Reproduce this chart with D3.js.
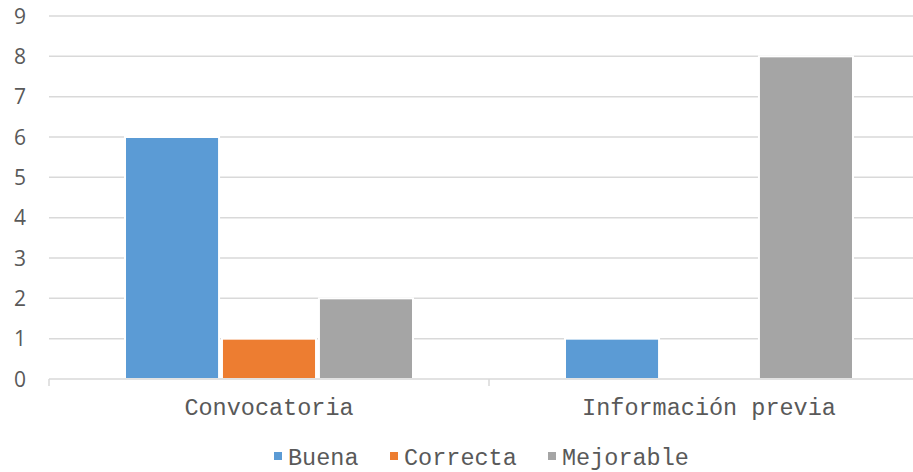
<!DOCTYPE html>
<html>
<head>
<meta charset="utf-8">
<script src="https://cdn.jsdelivr.net/npm/d3@7"></script>
<style>
  body { margin: 0; background: #fff; }
  svg { display: block; }
</style>
</head>
<body>
<div id="main"></div>
<script>
var categories = ["Convocatoria", "Información previa"];
var seriesNames = ["Buena", "Correcta", "Mejorable"];
var buena = [6, 1];
var correcta = [1, 0];
var mejorable = [2, 8];
var yTicks = [0, 1, 2, 3, 4, 5, 6, 7, 8, 9];
var colors = ["#5B9BD5", "#ED7D31", "#A5A5A5"];

var seriesValues = [buena, correcta, mejorable];

var width = 913, height = 472;
var margin = { top: 16, left: 49, right: 929, bottom: 379 };

var svg = d3.select("#main").append("svg")
  .attr("width", width)
  .attr("height", height);

var x = d3.scaleBand()
  .domain(categories)
  .range([margin.left, margin.right]);

var x1 = d3.scaleBand()
  .domain(seriesNames)
  .range([76, x.bandwidth() - 76])
  .paddingInner(0.03);

var y = d3.scaleLinear()
  .domain([0, 9])
  .range([margin.bottom, margin.top]);

// gridlines
svg.append("g")
  .selectAll("line")
  .data(yTicks.slice(1))
  .enter().append("line")
  .attr("x1", margin.left)
  .attr("x2", margin.right)
  .attr("y1", function(d) { return y(d); })
  .attr("y2", function(d) { return y(d); })
  .attr("stroke", "#d9d9d9")
  .attr("stroke-width", 1.5);

// y labels
svg.append("g")
  .selectAll("text")
  .data(yTicks)
  .enter().append("text")
  .attr("x", 26)
  .attr("y", function(d) { return y(d); })
  .attr("dy", "0.36em")
  .attr("text-anchor", "end")
  .style("font-family", "'Open Sans', sans-serif")
  .style("font-size", "21px")
  .style("fill", "#595959")
  .text(function(d) { return d; });

// bars
var groups = svg.selectAll(".grp")
  .data(categories)
  .enter().append("g")
  .attr("class", "grp")
  .attr("transform", function(d) { return "translate(" + x(d) + ",0)"; });

groups.selectAll("rect")
  .data(function(d, i) {
    return seriesNames.map(function(s, j) {
      return { name: s, value: seriesValues[j][i], idx: j };
    });
  })
  .enter().append("rect")
  .filter(function(d) { return d.value > 0; })
  .attr("x", function(d) { return x1(d.name); })
  .attr("width", x1.bandwidth())
  .attr("y", function(d) { return y(d.value); })
  .attr("height", function(d) { return y(0) - y(d.value); })
  .attr("fill", function(d) { return colors[d.idx]; })
  .attr("stroke", "#fff")
  .attr("stroke-width", 2);

// x axis
var xAxis = svg.append("g");
xAxis.append("line")
  .attr("x1", margin.left)
  .attr("x2", margin.right)
  .attr("y1", y(0))
  .attr("y2", y(0))
  .attr("stroke", "#d9d9d9")
  .attr("stroke-width", 1.5);

var tickPos = [margin.left, x(categories[1]), margin.right];
xAxis.selectAll(".tk")
  .data(tickPos)
  .enter().append("line")
  .attr("x1", function(d) { return d; })
  .attr("x2", function(d) { return d; })
  .attr("y1", y(0))
  .attr("y2", y(0) + 7)
  .attr("stroke", "#d9d9d9")
  .attr("stroke-width", 1.5);

xAxis.selectAll("text")
  .data(categories)
  .enter().append("text")
  .attr("x", function(d) { return x(d) + x.bandwidth() / 2; })
  .attr("y", 415)
  .attr("text-anchor", "middle")
  .style("font-family", "'Liberation Mono', monospace")
  .style("font-size", "23.5px")
  .style("fill", "#595959")
  .text(function(d) { return d; });

// legend
var legendX = [274, 390, 548];
var legend = svg.selectAll(".legend")
  .data(seriesNames)
  .enter().append("g")
  .attr("class", "legend")
  .attr("transform", function(d, i) { return "translate(" + legendX[i] + ",0)"; });

legend.append("rect")
  .attr("x", 0)
  .attr("y", 452)
  .attr("width", 8)
  .attr("height", 8)
  .attr("fill", function(d, i) { return colors[i]; });

legend.append("text")
  .attr("x", 14)
  .attr("y", 465)
  .style("font-family", "'Liberation Mono', monospace")
  .style("font-size", "23.5px")
  .style("fill", "#595959")
  .text(function(d) { return d; });
</script>
</body>
</html>
